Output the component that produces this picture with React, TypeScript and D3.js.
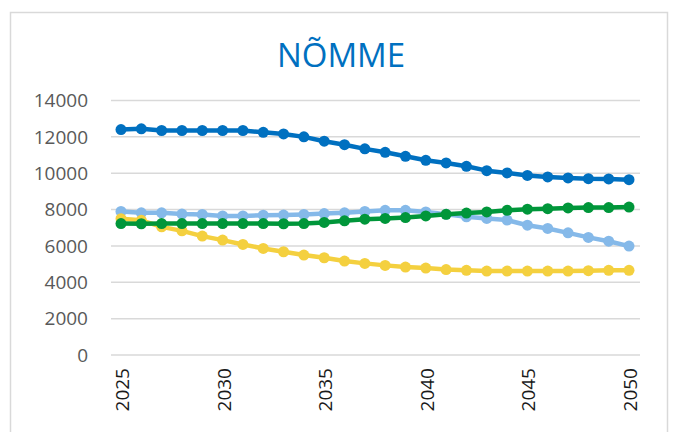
import React, { useRef, useEffect } from 'react';
import * as d3 from 'd3';

const years = [2025, 2026, 2027, 2028, 2029, 2030, 2031, 2032, 2033, 2034, 2035, 2036, 2037,
  2038, 2039, 2040, 2041, 2042, 2043, 2044, 2045, 2046, 2047, 2048, 2049, 2050];
const yTicks = [0, 2000, 4000, 6000, 8000, 10000, 12000, 14000];
const xLabels = [2025, 2030, 2035, 2040, 2045, 2050];

const darkBlue = [12400, 12440, 12350, 12350, 12350, 12350, 12350, 12250, 12160, 12000, 11760, 11570, 11340,
  11150, 10930, 10710, 10565, 10380, 10140, 10015, 9880, 9795, 9740, 9700, 9685, 9645];
const lightBlue = [7900, 7820, 7820, 7750, 7730, 7650, 7650, 7690, 7700, 7730, 7780, 7820, 7900,
  7960, 7960, 7870, 7740, 7600, 7510, 7420, 7140, 6960, 6720, 6470, 6260, 5990];
const yellow = [7500, 7410, 7050, 6830, 6540, 6320, 6080, 5860, 5680, 5500, 5350, 5170, 5040,
  4930, 4840, 4780, 4700, 4660, 4620, 4620, 4620, 4620, 4620, 4640, 4660, 4660];
const green = [7230, 7220, 7230, 7230, 7230, 7230, 7230, 7230, 7220, 7230, 7290, 7380, 7470,
  7510, 7560, 7650, 7740, 7810, 7870, 7960, 8020, 8050, 8090, 8110, 8110, 8140];

const series = [
  { values: darkBlue, color: '#0070c0' },
  { values: lightBlue, color: '#85b9e9' },
  { values: yellow, color: '#f4d03f' },
  { values: green, color: '#00963a' },
];

export default function App() {
  const ref = useRef<SVGSVGElement | null>(null);

  useEffect(() => {
    document.body.style.margin = '0';
    if (!ref.current) return;
    const svg = d3.select(ref.current);
    svg.selectAll('*').remove();

    const font = '"Open Sans", sans-serif';

    // chart frame
    svg.append('rect')
      .attr('x', 10.5).attr('y', 12.5)
      .attr('width', 657).attr('height', 440)
      .attr('fill', '#fff')
      .attr('stroke', '#d9d9d9')
      .attr('stroke-width', 1.5);

    svg.append('text')
      .attr('x', 341).attr('y', 67)
      .attr('text-anchor', 'middle')
      .attr('font-family', font)
      .attr('font-size', 33)
      .attr('fill', '#0070c0')
      .text('NÕMME');

    const x = d3.scalePoint<number>().domain(years).range([121, 629]);
    const y = d3.scaleLinear().domain([0, 14000]).range([355, 100.5]);

    const grid = svg.append('g');
    grid.selectAll('line')
      .data(yTicks)
      .join('line')
      .attr('x1', 111).attr('x2', 640)
      .attr('y1', d => y(d)).attr('y2', d => y(d))
      .attr('stroke', '#d9d9d9')
      .attr('stroke-width', 1.5);

    svg.append('g').selectAll('text')
      .data(yTicks)
      .join('text')
      .attr('x', 88)
      .attr('y', d => y(d))
      .attr('dy', '0.36em')
      .attr('text-anchor', 'end')
      .attr('font-family', font)
      .attr('font-size', 19)
      .attr('fill', '#595959')
      .text(d => String(d));

    svg.append('g').selectAll('text')
      .data(xLabels)
      .join('text')
      .attr('transform', d => `translate(${x(d)! + 8}, 368) rotate(-90)`)
      .attr('text-anchor', 'end')
      .attr('font-family', font)
      .attr('font-size', 19)
      .attr('fill', '#1a1a1a')
      .text(d => String(d));

    const line = d3.line<number>()
      .x((_, i) => x(years[i])!)
      .y(d => y(d));

    series.forEach(s => {
      const g = svg.append('g');
      g.append('path')
        .datum(s.values)
        .attr('fill', 'none')
        .attr('stroke', s.color)
        .attr('stroke-width', 4.5)
        .attr('stroke-linejoin', 'round')
        .attr('d', line);
      g.selectAll('circle')
        .data(s.values)
        .join('circle')
        .attr('cx', (_, i) => x(years[i])!)
        .attr('cy', d => y(d))
        .attr('r', 5.5)
        .attr('fill', s.color);
    });
  }, []);

  return (
    <svg ref={ref} width={676} height={432} style={{ display: 'block' }} />
  );
}
